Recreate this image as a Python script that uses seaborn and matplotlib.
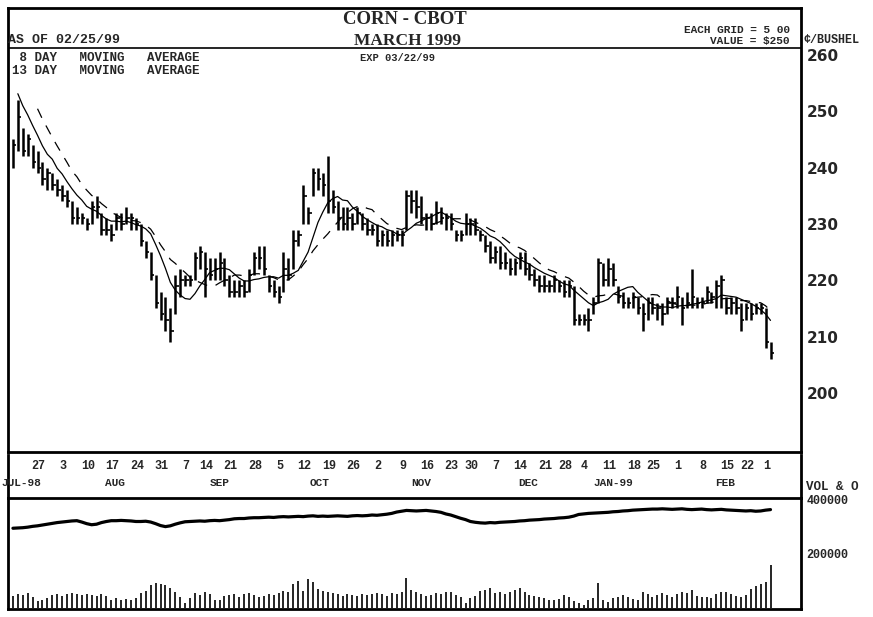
import pandas as pd
import matplotlib
matplotlib.use("Agg")
import matplotlib.pyplot as plt
import seaborn as sns

# March 1999 corn, daily bars in cents/bushel, 07/16/98 .. 02/25/99
highs = [245, 252, 247, 246, 244, 243, 241, 240, 239, 238, 237, 236, 234, 233, 232, 231,
         234, 235, 232, 231, 230, 232, 232, 233, 232, 231, 230, 227, 225, 221, 218, 217,
         215, 221, 222, 221, 221, 225, 226, 225, 224, 224, 225, 224, 221, 220, 220, 220,
         222, 225, 226, 226, 221, 220, 219, 225, 224, 229, 229, 237, 233, 240, 240, 239,
         242, 236, 234, 233, 233, 232, 233, 232, 231, 230, 230, 229, 229, 229, 229, 229,
         236, 236, 236, 235, 232, 232, 234, 233, 232, 232, 229, 229, 232, 231, 231, 229,
         228, 227, 226, 226, 225, 224, 224, 225, 225, 223, 222, 221, 221, 220, 221, 220,
         220, 220, 219, 214, 214, 215, 217, 224, 223, 224, 223, 219, 218, 217, 218, 217,
         216, 217, 217, 216, 216, 217, 217, 219, 217, 218, 222, 217, 217, 219, 218, 220,
         221, 217, 217, 217, 216, 216, 216, 216, 216, 215, 209]
lows = [240, 243, 242, 242, 240, 239, 237, 236, 236, 235, 234, 233, 230, 230, 230, 229,
        230, 231, 228, 228, 227, 229, 229, 230, 229, 229, 226, 224, 220, 215, 213, 211,
        209, 214, 217, 219, 219, 220, 222, 217, 220, 220, 220, 219, 217, 217, 217, 217,
        218, 221, 222, 221, 218, 217, 216, 218, 220, 222, 226, 230, 230, 235, 236, 235,
        232, 232, 229, 229, 229, 229, 230, 229, 228, 228, 226, 226, 226, 226, 227, 226,
        229, 232, 231, 230, 229, 229, 230, 230, 229, 229, 227, 227, 228, 228, 228, 227,
        225, 223, 223, 222, 222, 221, 221, 222, 221, 220, 219, 218, 218, 218, 218, 218,
        217, 217, 212, 212, 212, 211, 214, 216, 219, 219, 219, 216, 215, 215, 215, 214,
        211, 213, 214, 213, 212, 214, 215, 215, 212, 215, 215, 215, 215, 216, 216, 215,
        215, 214, 214, 214, 211, 213, 213, 214, 214, 208, 206]
closes = [244, 249, 243, 245, 241, 240, 238, 239, 237, 236, 235, 234, 231, 231, 231, 230,
          233, 233, 229, 229, 228, 231, 230, 231, 231, 230, 227, 225, 221, 216, 214, 213,
          211, 219, 220, 220, 220, 224, 225, 222, 221, 222, 223, 220, 218, 218, 219, 218,
          221, 224, 224, 222, 219, 218, 217, 222, 221, 227, 228, 235, 232, 239, 238, 237,
          234, 233, 231, 230, 231, 230, 232, 230, 229, 229, 227, 228, 227, 228, 228, 228,
          235, 234, 233, 231, 231, 230, 232, 231, 231, 230, 228, 228, 230, 230, 229, 228,
          226, 224, 225, 223, 223, 222, 223, 224, 222, 221, 220, 219, 219, 219, 220, 219,
          218, 219, 213, 213, 213, 213, 216, 223, 220, 222, 220, 217, 216, 216, 217, 215,
          214, 216, 215, 215, 214, 216, 216, 217, 215, 216, 217, 216, 216, 218, 217, 219,
          220, 215, 216, 215, 213, 215, 214, 215, 215, 209, 207]
# closes before the window, only needed to start the moving averages
prior_closes = [262, 260, 258, 256, 254, 253, 251]

# open interest and volume, thousands of contracts
open_int = [295, 296, 297, 299, 302, 304, 307, 310, 313, 316, 318, 320, 322, 323, 318, 312,
            308, 310, 316, 320, 323, 323, 324, 323, 322, 320, 320, 321, 318, 312, 305, 301,
            304, 310, 315, 319, 320, 321, 322, 321, 323, 324, 323, 325, 327, 330, 331, 331,
            333, 334, 334, 335, 336, 335, 337, 338, 337, 338, 339, 338, 340, 341, 339, 340,
            339, 340, 341, 340, 339, 341, 342, 341, 342, 344, 343, 345, 347, 350, 355, 358,
            361, 360, 359, 360, 361, 359, 357, 354, 348, 344, 338, 332, 327, 320, 317, 315,
            314, 316, 315, 317, 318, 319, 320, 322, 323, 325, 326, 327, 329, 330, 331, 333,
            334, 336, 340, 346, 348, 350, 351, 352, 353, 354, 356, 357, 359, 360, 362, 363,
            364, 365, 366, 366, 367, 366, 365, 366, 367, 365, 364, 365, 366, 364, 363, 364,
            365, 363, 362, 361, 360, 359, 360, 358, 359, 362, 364]
volume = [45, 52, 48, 55, 40, 25, 30, 38, 46, 50, 44, 52, 55, 50, 47, 53,
          48, 45, 50, 44, 30, 35, 28, 33, 30, 38, 55, 62, 85, 92, 90, 84,
          75, 58, 42, 20, 38, 55, 48, 60, 52, 30, 28, 45, 47, 50, 42, 52,
          55, 47, 40, 44, 52, 48, 56, 62, 58, 90, 100, 62, 108, 96, 70, 62,
          58, 55, 50, 45, 52, 48, 44, 50, 46, 52, 55, 50, 45, 56, 52, 60,
          112, 65, 58, 52, 45, 48, 55, 50, 58, 60, 48, 42, 18, 38, 45, 62,
          68, 72, 55, 60, 52, 58, 68, 72, 60, 48, 45, 40, 35, 30, 28, 32,
          48, 42, 24, 20, 12, 30, 36, 92, 30, 22, 35, 40, 48, 42, 32, 28,
          58, 50, 42, 48, 55, 48, 40, 52, 60, 56, 68, 45, 40, 42, 36, 50,
          58, 60, 50, 44, 40, 48, 70, 82, 88, 95, 160]

holidays = ["1998-09-07", "1998-11-26", "1998-12-25", "1999-01-01", "1999-01-18", "1999-02-15"]
days = pd.bdate_range("1998-07-16", "1999-02-25")
days = days[~days.isin(pd.to_datetime(holidays))]
mondays = pd.date_range("1998-07-27", "1999-03-01", freq="W-MON")
month_names = ["JUL-98", "AUG", "SEP", "OCT", "NOV", "DEC", "JAN-99", "FEB"]
month_pos = [-0.4, 20.7, 42, 62.4, 83, 104.7, 122, 144.7]
price_ticks = [200, 210, 220, 230, 240, 250, 260]

df = pd.DataFrame({"i": range(len(closes)), "high": highs, "low": lows, "close": closes,
                   "oi": open_int, "vol": volume})
allc = pd.Series(prior_closes + closes)
n0 = len(prior_closes)
df["ma8"] = allc.rolling(8).mean().values[n0:]
df["ma13"] = allc.rolling(13).mean().values[n0:]
# labels in the source sit a bit ahead of the monday bar
week_pos = days.searchsorted(mondays) - 1.8

sns.set_style("white")
plt.rcParams["font.family"] = ["Liberation Mono", "DejaVu Sans"]

W, H = 873, 617
fig = plt.figure(figsize=(W / 100, H / 100), dpi=100)


def box(x0, y0, x1, y1):
    return [x0 / W, 1 - y1 / H, (x1 - x0) / W, (y1 - y0) / H]


def ftext(x, y, s, **kw):
    fig.text(x / W, 1 - y / H, s, **kw)


ax = fig.add_axes(box(8, 8, 801, 452))
axd = fig.add_axes(box(8, 455, 801, 498))
axv = fig.add_axes(box(8, 498, 801, 609))
xlim = (-1.0, 160.2)

# price bars + moving averages
ax.vlines(df.i, df.low, df.high, color="black", lw=1.8)
ax.hlines(df.close, df.i, df.i + 0.7, color="black", lw=1.2)
m8 = df[df.i >= 1]
sns.lineplot(x=m8.i, y=m8.ma8, ax=ax, color="black", lw=0.9)
m13 = df.dropna(subset=["ma13"])
sns.lineplot(x=m13.i, y=m13.ma13, ax=ax, color="black", lw=0.9, linestyle=(0, (8, 7)))
ax.axhline(261.2, color="black", lw=1.2)
ax.set_xlim(*xlim)
ax.set_ylim(189.5, 268.35)
ax.set_xticks([])
ax.yaxis.tick_right()
ax.set_yticks(price_ticks)
ax.set_yticklabels([str(p) for p in price_ticks], fontfamily="DejaVu Sans",
                   fontweight="bold", fontsize=11)
ax.tick_params(axis="y", length=0, pad=4)
ax.set_xlabel("")
ax.set_ylabel("")

# date strip
axd.set_xlim(*xlim)
axd.set_ylim(0, 1)
axd.set_yticks([])
axd.xaxis.tick_top()
axd.set_xticks(week_pos)
axd.set_xticklabels([str(d.day) for d in mondays], fontweight="bold", fontsize=8.5)
axd.tick_params(axis="x", length=0, pad=-12)
for name, p in zip(month_names[1:], month_pos[1:]):
    axd.text(p, 0.35, name, ha="center", va="center", fontsize=8, fontweight="bold",
             transform=axd.get_xaxis_transform())
ftext(1, 483, month_names[0], ha="left", va="center", fontsize=8, fontweight="bold")
axd.spines["top"].set_visible(False)
axd.spines["bottom"].set_visible(False)

# open interest + volume
axv.vlines(df.i, 0, df.vol, color="black", lw=1.2)
sns.lineplot(x=df.i, y=df.oi, ax=axv, color="black", lw=2.3)
axv.set_xlim(*xlim)
axv.set_ylim(-4, 407)
axv.set_xticks([])
axv.yaxis.tick_right()
axv.set_yticks([200, 400])
axv.set_yticklabels(["200000", "400000"], fontweight="bold", fontsize=8.5)
axv.tick_params(axis="y", length=0, pad=4)
axv.set_xlabel("")
axv.set_ylabel("")

for a in (ax, axd, axv):
    for s in a.spines.values():
        s.set_linewidth(2)
        s.set_color("black")

# header texts
ftext(405, 20, "CORN - CBOT", ha="center", va="center", fontsize=13.5,
      fontfamily="Liberation Serif", fontweight="bold")
ftext(407, 41, "MARCH 1999", ha="center", va="center", fontsize=12.5,
      fontfamily="Liberation Serif", fontweight="bold")
ftext(8, 40, "AS OF 02/25/99", ha="left", va="center", fontsize=9.5, fontweight="bold")
ftext(790, 30, "EACH GRID = 5 00", ha="right", va="center", fontsize=8, fontweight="bold")
ftext(790, 41, "VALUE = $250", ha="right", va="center", fontsize=8, fontweight="bold")
ftext(803, 40, "¢/BUSHEL", ha="left", va="center", fontsize=8.5, fontweight="bold")
ftext(397, 58, "EXP 03/22/99", ha="center", va="center", fontsize=7.5, fontweight="bold")
ftext(12, 58, " 8 DAY   MOVING   AVERAGE", ha="left", va="center", fontsize=9, fontweight="bold")
ftext(12, 71, "13 DAY   MOVING   AVERAGE", ha="left", va="center", fontsize=9, fontweight="bold")
ftext(806, 487, "VOL & O", ha="left", va="center", fontsize=9, fontweight="bold")

fig.savefig("out.png", dpi=100)
